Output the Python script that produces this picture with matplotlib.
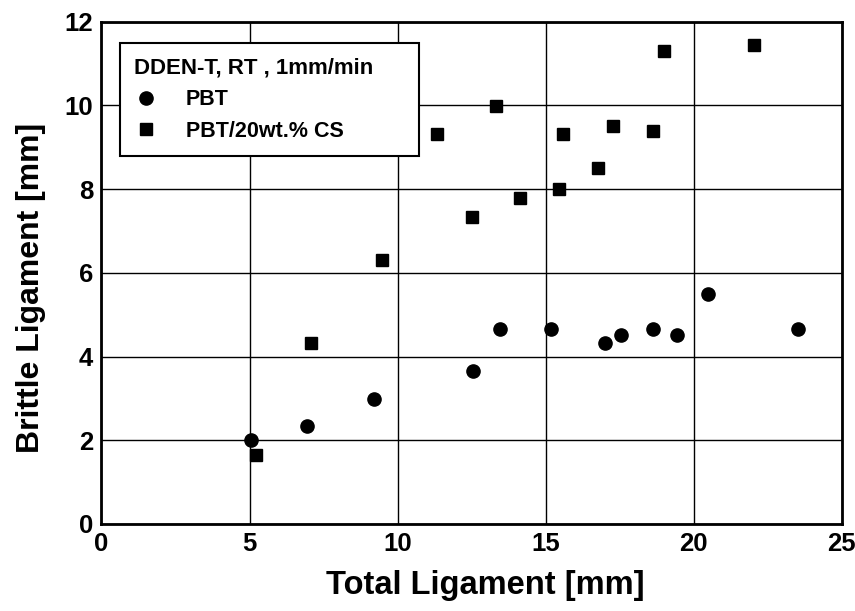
import matplotlib.pyplot as plt

plt.rcParams['font.family'] = ['Liberation Sans', 'DejaVu Sans']
plt.rcParams['font.weight'] = 'bold'

# PBT (circles)
pbt_x = [5.05, 6.93, 9.2, 12.53, 13.45, 15.18, 17.02, 17.56, 18.62, 19.42, 20.47, 23.53]
pbt_y = [2.0, 2.34, 2.99, 3.66, 4.66, 4.66, 4.32, 4.51, 4.66, 4.51, 5.5, 4.66]

# PBT/20wt.% CS (squares)
cs_x = [5.23, 7.09, 9.48, 11.32, 12.52, 13.32, 14.12, 15.45, 15.57, 16.76, 17.29, 18.62, 19.0, 22.05]
cs_y = [1.65, 4.32, 6.31, 9.31, 7.33, 9.98, 7.8, 8.0, 9.31, 8.5, 9.5, 9.38, 11.31, 11.44]

fig = plt.figure(figsize=(8.55, 6.11), dpi=100)
ax = fig.add_axes([0.1187, 0.1424, 0.8658, 0.822])

ax.plot(pbt_x, pbt_y, 'o', color='black', markersize=9.5, label='PBT', zorder=3)
ax.plot(cs_x, cs_y, 's', color='black', markersize=8.5, label='PBT/20wt.% CS', zorder=3)

ax.set_xlim(0, 25)
ax.set_ylim(0, 12)
ax.set_xticks([0, 5, 10, 15, 20, 25])
ax.set_yticks([0, 2, 4, 6, 8, 10, 12])
ax.grid(True, color='black', linewidth=1.0)
ax.set_axisbelow(True)
ax.tick_params(length=0, labelsize=18.5, pad=6)
for s in ax.spines.values():
    s.set_linewidth(2)

ax.set_xlabel('Total Ligament [mm]', fontsize=23.5, fontweight='bold')
ax.set_ylabel('Brittle Ligament [mm]', fontsize=23, fontweight='bold')
ax.xaxis.set_label_coords(0.518, -0.092)
ax.yaxis.set_label_coords(-0.075, 0.47)

leg = ax.legend(title='DDEN-T, RT , 1mm/min', loc='upper left',
                bbox_to_anchor=(0.025, 0, 0.404, 0.957), mode='expand',
                fontsize=15.5,
                title_fontproperties={'size': 16, 'weight': 'bold'},
                alignment='left', fancybox=False, framealpha=1,
                edgecolor='black', handlelength=1.1, handletextpad=1.3,
                borderpad=0.65, labelspacing=0.5, borderaxespad=0)
leg.get_frame().set_linewidth(1.5)

fig.savefig('out.png', dpi=100)
